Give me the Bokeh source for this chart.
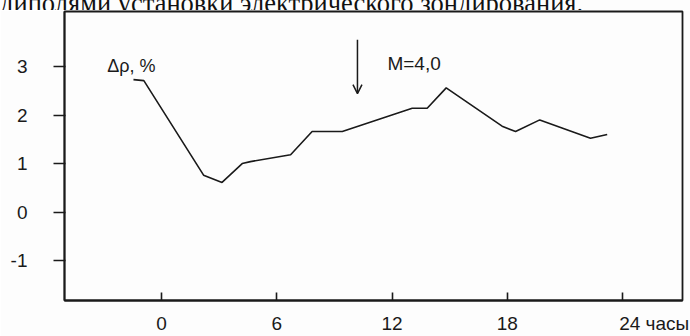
from bokeh.plotting import figure
from bokeh.layouts import column
from bokeh.models import Range1d, FixedTicker, Label, Arrow, OpenHead, Div
from bokeh.embed import file_html
from bokeh.resources import INLINE

# data (hours, Δρ %)
hours = [-1.46, -0.92, 2.19, 3.15, 4.20, 4.63, 6.72, 7.84, 9.41, 13.05, 13.83,
         14.82, 17.73, 18.43, 19.69, 22.33, 23.20]
drho = [2.73, 2.71, 0.76, 0.61, 1.00, 1.04, 1.18, 1.66, 1.66, 2.14, 2.14,
        2.56, 1.77, 1.66, 1.90, 1.52, 1.60]
x_ticks = [0, 6, 12, 18, 24]
x_tick_labels = {0: "0", 6: "6", 12: "12", 18: "18",
                 24: "\u00a0" * 12 + "24 часы"}
y_ticks = [-1, 0, 1, 2, 3]
y_tick_labels = {-1: "-1", 0: "0", 1: "1", 2: "2", 3: "3"}
quake_time = 10.2
quake_label = "M=4,0"
y_label = "Δρ, %"
caption = "диполями установки электрического зондирования."

FONT = "Liberation Sans"
INK = "#1a1a1a"

cap = Div(text=('<div style="margin:-13px 0 0 0; font-family:\'Liberation Serif\';'
                ' font-size:26.5px; line-height:24px; white-space:nowrap; color:#111;">'
                + caption + '</div>'),
          width=690, height=10, margin=0,
          styles={"overflow": "hidden", "background-color": "#fdfdfd"})

p = figure(width=690, height=326, output_backend="svg", toolbar_location=None,
           x_range=Range1d(-5.05, 27.12), y_range=Range1d(-1.824, 4.135),
           min_border_left=64, min_border_right=8, min_border_top=1,
           min_border_bottom=30, margin=0)
p.background_fill_color = "#fdfdfd"
p.border_fill_color = "#fdfdfd"
p.grid.visible = False
p.outline_line_color = INK
p.outline_line_width = 1.8

p.xaxis.ticker = FixedTicker(ticks=x_ticks)
p.yaxis.ticker = FixedTicker(ticks=y_ticks)
p.xaxis.major_label_overrides = x_tick_labels
p.yaxis.major_label_overrides = y_tick_labels
for ax in (p.xaxis[0], p.yaxis[0]):
    ax.axis_line_color = INK
    ax.axis_line_width = 1.8
    ax.major_tick_line_color = INK
    ax.major_tick_line_width = 1.6
    ax.minor_tick_line_color = None
    ax.major_label_text_font = FONT
    ax.major_label_text_font_size = "19px"
    ax.major_label_text_color = INK
p.xaxis.major_tick_in = 8
p.xaxis.major_tick_out = 0
p.xaxis.major_label_standoff = 12
p.yaxis.major_tick_in = 1
p.yaxis.major_tick_out = 11
p.yaxis.major_label_standoff = 26

p.line(hours, drho, line_color=INK, line_width=1.6)

p.add_layout(Arrow(end=OpenHead(size=9, line_color=INK, line_width=1.5),
                   x_start=quake_time, y_start=3.55, x_end=quake_time, y_end=2.44,
                   line_color=INK, line_width=1.5))

p.add_layout(Label(x=11.76, y=3.06, text=quake_label, text_font=FONT,
                   text_font_size="19px", text_color=INK, text_baseline="alphabetic"))
p.add_layout(Label(x=-2.83, y=3.02, text=y_label, text_font=FONT,
                   text_font_size="18px", text_color=INK, text_baseline="alphabetic"))

layout = column(cap, p, spacing=0, margin=0)
open("out.html", "w").write(file_html(layout, INLINE))
